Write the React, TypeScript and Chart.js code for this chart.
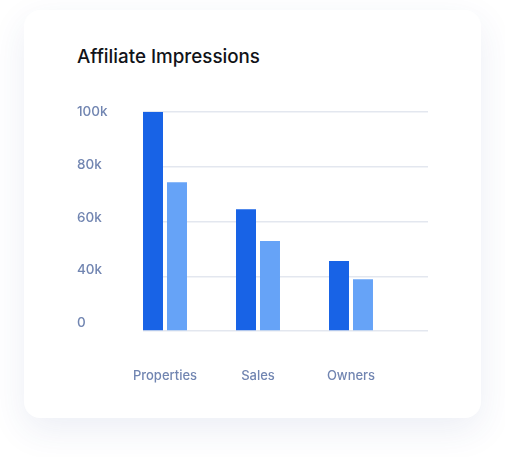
import React, { useEffect, useRef } from "react";
import { Chart, registerables } from "chart.js";

Chart.register(...registerables);

const categories = ["Properties", "Sales", "Owners"];
const seriesPrimary = [100, 55.6, 32];
const seriesSecondary = [67.9, 41.1, 23.6];
const tickValues = [0, 25, 50, 75, 100];
const tickLabels = ["0", "40k", "60k", "80k", "100k"];

const LABEL_COLOR = "#7185b1";
const FONT = "Inter, 'Noto Sans', sans-serif";

export default function App() {
  const ref = useRef<HTMLCanvasElement | null>(null);

  useEffect(() => {
    const canvas = ref.current;
    if (!canvas) return;
    const chart = new Chart(canvas, {
      type: "bar",
      data: {
        datasets: [
          {
            data: seriesPrimary.map((v, i) => ({ x: i, y: v })),
            backgroundColor: "#1863e6",
            borderWidth: 0,
            categoryPercentage: 0.516,
            barPercentage: 0.833,
          },
          {
            data: seriesSecondary.map((v, i) => ({ x: i, y: v })),
            backgroundColor: "#66a3f7",
            borderWidth: 0,
            categoryPercentage: 0.516,
            barPercentage: 0.833,
          },
        ],
      },
      options: {
        responsive: false,
        animation: false,
        layout: { padding: { left: 17, top: 22, right: 32, bottom: 9 } },
        plugins: { legend: { display: false }, tooltip: { enabled: false }, title: { display: false } },
        scales: {
          x: {
            type: "linear",
            bounds: "data",
            offset: false,
            min: -0.2366,
            max: 2.828,
            grid: { display: false, offset: false },
            border: { display: false },
            afterBuildTicks: (s: any) => {
              s.ticks = categories.map((_, i) => ({ value: i }));
            },
            ticks: {
              padding: 29,
              color: LABEL_COLOR,
              font: { family: FONT, size: 13, weight: 500 },
              callback: (v: any) => {
                const i = Number(v);
                return categories[i] !== undefined ? categories[i] : "";
              },
            },
            afterFit: (s: any) => {
              s.height = 60;
            },
          },
          y: {
            position: "left",
            min: 0,
            max: 100,
            grid: { color: "#e3e7ef", lineWidth: 1.5, drawTicks: false },
            border: { display: false },
            ticks: { display: false, stepSize: 25 },
          },
          yLabels: {
            type: "linear",
            position: "left",
            bounds: "data",
            min: -3.79,
            max: 100,
            grid: { display: false, drawTicks: false },
            border: { display: false },
            afterBuildTicks: (s: any) => {
              s.ticks = tickValues.map((v) => ({ value: v }));
            },
            ticks: {
              crossAlign: "far",
              padding: 0,
              color: LABEL_COLOR,
              font: { family: FONT, size: 13.5, weight: 500 },
              callback: (v: any) => {
                const idx = tickValues.indexOf(Number(v));
                return idx >= 0 ? tickLabels[idx] : "";
              },
            },
            afterFit: (s: any) => {
              s.width = 66;
            },
          },
        },
      } as any,
    });
    return () => chart.destroy();
  }, []);

  return (
    <div style={{ position: "fixed", left: 0, top: 0, width: 505, height: 457, background: "#ffffff", overflow: "hidden" }}>
      <div
        style={{
          position: "absolute",
          left: 24,
          top: 10,
          width: 457,
          height: 408,
          background: "#ffffff",
          borderRadius: 16,
          boxShadow: "0 12px 36px rgba(40, 70, 140, 0.09)",
        }}
      />
      <div
        style={{
          position: "absolute",
          left: 77,
          top: 44,
          fontFamily: FONT,
          fontSize: 18.8,
          fontWeight: 500,
          lineHeight: "26px",
          color: "#111318",
          whiteSpace: "nowrap",
        }}
      >
        Affiliate Impressions
      </div>
      <canvas
        ref={ref}
        width={400}
        height={310}
        style={{ position: "absolute", left: 60, top: 90, width: 400, height: 310 }}
      />
    </div>
  );
}
